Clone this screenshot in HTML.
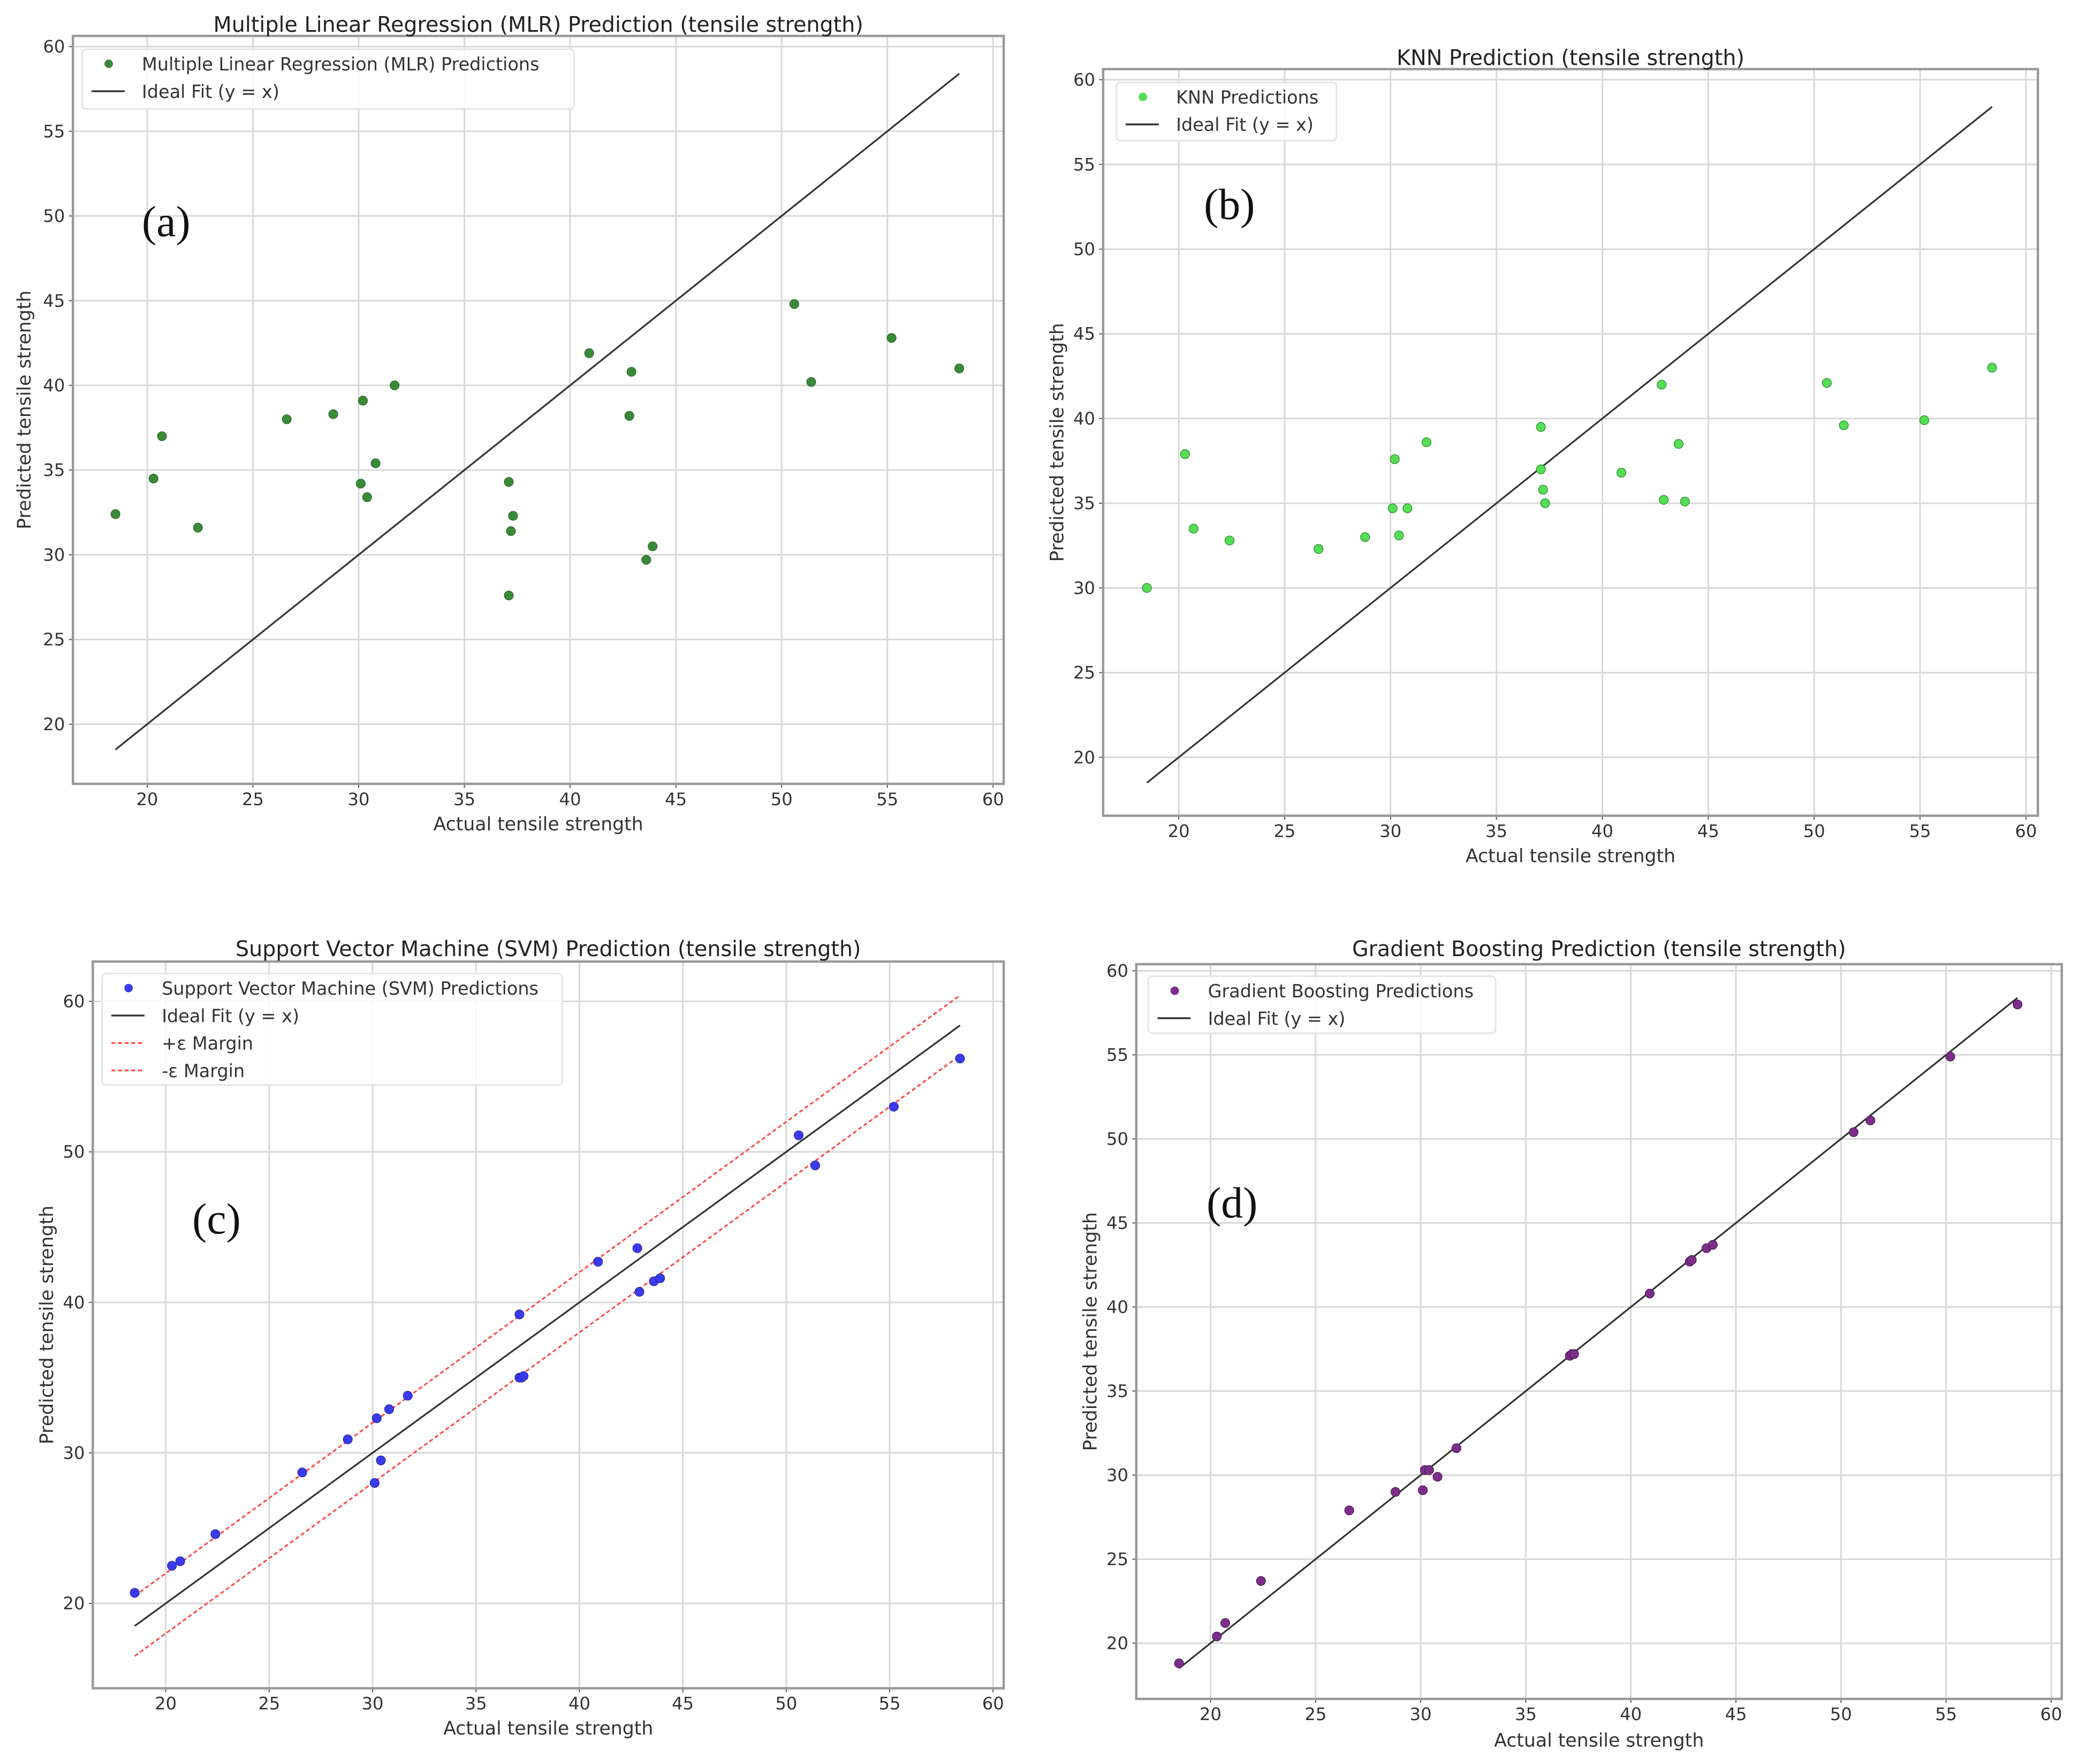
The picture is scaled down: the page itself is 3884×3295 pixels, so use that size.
<!DOCTYPE html>
<html><head><meta charset="utf-8"><style>
html,body{margin:0;padding:0;background:#fff;}
svg{display:block;font-family:"DejaVu Sans","Liberation Sans",sans-serif;}
</style></head><body>
<svg id="fig" width="3884" height="3295" viewBox="0 0 1568 1330" xmlns="http://www.w3.org/2000/svg"></svg>
<script>
const actual = [18.5,20.3,20.7,22.4,26.6,28.8,30.1,30.2,30.4,30.8,31.7,37.1,37.1,37.2,37.3,40.9,42.8,42.9,43.6,43.9,50.6,51.4,55.2,58.4];
const mlrPred = [32.4,34.5,37.0,31.6,38.0,38.3,34.2,39.1,33.4,35.4,40.0,34.3,27.6,31.4,32.3,41.9,38.2,40.8,29.7,30.5,44.8,40.2,42.8,41.0];
const knnPred = [30.0,37.9,33.5,32.8,32.3,33.0,34.7,37.6,33.1,34.7,38.6,39.5,37.0,35.8,35.0,36.8,42.0,35.2,38.5,35.1,42.1,39.6,39.9,43.0];
const svmPred = [20.7,22.5,22.8,24.6,28.7,30.9,28.0,32.3,29.5,32.9,33.8,39.2,35.0,35.0,35.1,42.7,43.6,40.7,41.4,41.6,51.1,49.1,53.0,56.2];
const gbPred = [18.8,20.4,21.2,23.7,27.9,29.0,29.1,30.3,30.3,29.9,31.6,37.1,37.1,37.2,37.2,40.8,42.7,42.8,43.5,43.7,50.4,51.1,54.9,58.0];
const xTicks = [20,25,30,35,40,45,50,55,60];
const yTicks5 = [20,25,30,35,40,45,50,55,60];
const yTicks10 = [20,30,40,50,60];
const svmEps = 2;

const NS="http://www.w3.org/2000/svg";
const svg=document.getElementById('fig');
function el(tag,attrs,parent,text){const e=document.createElementNS(NS,tag);for(const k in attrs)e.setAttribute(k,attrs[k]);if(text!==undefined)e.textContent=text;(parent||svg).appendChild(e);return e;}

const panels=[
 {key:'mlr',title:'Multiple Linear Regression (MLR) Prediction (tensile strength)',fr:[55,27,757,591],xa:[111,749],ya:[546,35],yt:yTicks5,data:mlrPred,color:'#3a8a3a',edge:'#2a6a2a',legend:'Multiple Linear Regression (MLR) Predictions',lg:[62,37,433,82],tag:'(a)',tp:[107,178],titleY:18,xlY:621,ylX:18},
 {key:'knn',title:'KNN Prediction (tensile strength)',fr:[832,52,1537,615],xa:[889,1528],ya:[571,60],yt:yTicks5,data:knnPred,color:'#55dd55',edge:'#2a8a2a',legend:'KNN Predictions',lg:[842,62,1008,106],tag:'(b)',tp:[908,165],titleY:43,xlY:645,ylX:797},
 {key:'svm',title:'Support Vector Machine (SVM) Prediction (tensile strength)',fr:[70,725,757,1273],xa:[125,749],ya:[1209,755],yt:yTicks10,data:svmPred,color:'#3a3aee',edge:'#2a2aa0',legend:'Support Vector Machine (SVM) Predictions',lg:[77,734,424,818],tag:'(c)',tp:[145,930],titleY:715,xlY:1303,ylX:35,svm:true},
 {key:'gb',title:'Gradient Boosting Prediction (tensile strength)',fr:[857,727,1555,1281],xa:[913,1547],ya:[1239,732],yt:yTicks5,data:gbPred,color:'#7b2f8a',edge:'#4a1a55',legend:'Gradient Boosting Predictions',lg:[866,736,1128,779],tag:'(d)',tp:[910,918],titleY:715,xlY:1312,ylX:822}
];

panels.forEach(p=>{
 const g=el('g',{});
 
 
 const [L,T,R,B]=p.fr;
 const sx=v=>p.xa[0]+(v-20)*(p.xa[1]-p.xa[0])/40;
 const sy=v=>p.ya[0]+(v-20)*(p.ya[1]-p.ya[0])/40;
 xTicks.forEach(t=>{const l=el('line',{x1:sx(t),x2:sx(t),y1:T,y2:B,stroke:'#d8d8d8','stroke-width':1.2},g);
  
  const tx=el('text',{x:sx(t),y:B+16,'text-anchor':'middle','font-size':13,fill:'#333'},g,String(t));
  
  el('line',{x1:sx(t),x2:sx(t),y1:B,y2:B+3,stroke:'#555','stroke-width':0.8},g);});
 p.yt.forEach(t=>{const l=el('line',{x1:L,x2:R,y1:sy(t),y2:sy(t),stroke:'#d8d8d8','stroke-width':1.2},g);
  
  const tx=el('text',{x:L-6,y:sy(t)+4.5,'text-anchor':'end','font-size':13,fill:'#333'},g,String(t));
  
  el('line',{x1:L-3,x2:L,y1:sy(t),y2:sy(t),stroke:'#555','stroke-width':0.8},g);});
 const fr=el('rect',{x:L,y:T,width:R-L,height:B-T,fill:'none',stroke:'#999','stroke-width':1.8},g);
 
 const lo=Math.min(...actual),hi=Math.max(...actual);
 const il=el('line',{x1:sx(lo),y1:sy(lo),x2:sx(hi),y2:sy(hi),stroke:'#333','stroke-width':1.3},g);
 
 if(p.svm){[svmEps,-svmEps].forEach(e=>{const m=el('line',{x1:sx(lo),y1:sy(lo+e),x2:sx(hi),y2:sy(hi+e),stroke:'#f44','stroke-width':1.2,'stroke-dasharray':'3,2'},g);
  });}
 actual.forEach((a,i)=>{const c=el('circle',{cx:sx(a),cy:sy(p.data[i]),r:3.4,fill:p.color,stroke:p.edge,'stroke-width':0.5},g);
  });
 const [lx,ly,lr,lb]=p.lg;
 const lgG=el('g',{},g);
 
 el('rect',{x:lx,y:ly,width:lr-lx,height:lb-ly,rx:3,fill:'#fff','fill-opacity':0.85,stroke:'#e4e4e4','stroke-width':1.2},lgG);
 const rows=[{t:p.legend,k:'dot'},{t:'Ideal Fit (y = x)',k:'line'}];
 if(p.svm){rows.push({t:'+ε Margin',k:'dash'});rows.push({t:'-ε Margin',k:'dash'});}
 rows.forEach((r,i)=>{const yy=ly+11+i*20.7;
  if(r.k==='dot')el('circle',{cx:lx+20,cy:yy,r:3.2,fill:p.color},lgG);
  else el('line',{x1:lx+7,x2:lx+32,y1:yy,y2:yy,stroke:r.k==='line'?'#333':'#f55','stroke-width':1.4,'stroke-dasharray':r.k==='dash'?'3,2':'none'},lgG);
  const t=el('text',{x:lx+45,y:yy+5,'font-size':13.5,fill:'#333','textLength':r.k==='dot'?undefined:undefined},lgG,r.t);
  });
 const tt=el('text',{x:(L+R)/2,y:p.titleY+6,'text-anchor':'middle','font-size':16,fill:'#222'},g,p.title);
 
 const xl=el('text',{x:(L+R)/2,y:p.xlY+5,'text-anchor':'middle','font-size':14,fill:'#333'},g,'Actual tensile strength');
 
 const cy=(T+B)/2;
 const yl=el('text',{x:p.ylX+5,y:cy,'text-anchor':'middle','font-size':14,fill:'#333',transform:`rotate(-90 ${p.ylX+5} ${cy})`},g,'Predicted tensile strength');
 
 const tg=el('text',{x:p.tp[0],y:p.tp[1],'font-size':33,fill:'#111','font-family':'Liberation Serif, serif'},g,p.tag);
 
});
</script>
</body></html>
